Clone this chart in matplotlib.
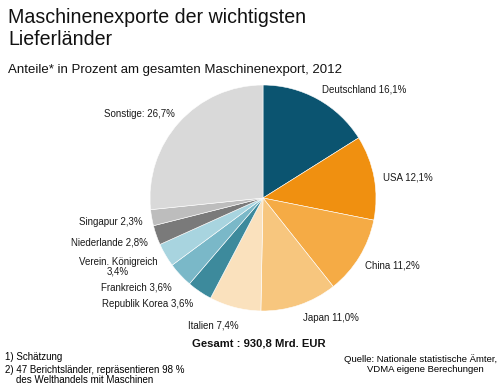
import matplotlib.pyplot as plt

plt.rcParams['font.family'] = ['Liberation Sans', 'DejaVu Sans']

# data
laender = ['Deutschland', 'USA', 'China', 'Japan', 'Italien', 'Republik Korea',
           'Frankreich', 'Verein. Königreich', 'Niederlande', 'Singapur', 'Sonstige']
anteile = [16.1, 12.1, 11.2, 11.0, 7.4, 3.6, 3.6, 3.4, 2.8, 2.3, 26.7]
farben = ['#0b5470', '#f09010', '#f5ab45', '#f7c67e', '#fae1bd', '#3d8a9c',
          '#7ab8c8', '#a8d4df', '#7a7a7a', '#bdbdbd', '#d9d9d9']

# label anchor positions in pixels (x, y from top), ha
label_pos = [(322, 90, 'left'), (383, 178, 'left'), (365, 266, 'left'),
             (303, 318, 'left'), (188, 325, 'left'), (193, 304, 'right'),
             (172, 287, 'right'), (118, 267, 'center'), (148, 242, 'right'),
             (143, 222, 'right'), (175, 114, 'right')]

W, H = 500, 387
fig = plt.figure(figsize=(5, 3.87), dpi=100)

cx, cy, r = 263, 198, 113
ax = fig.add_axes([(cx - r) / W, 1 - (cy + r) / H, 2 * r / W, 2 * r / H])
ax.pie(anteile, colors=farben, startangle=90, counterclock=False,
       radius=1, wedgeprops=dict(linewidth=0.4, edgecolor='white'))
ax.set_xlim(-1, 1)
ax.set_ylim(-1, 1)
ax.set_aspect('auto')
ax.axis('off')

def fmt(v):
    return f'{v:.1f}'.replace('.', ',') + '%'

for name, v, (x, y, ha) in zip(laender, anteile, label_pos):
    if name == 'Verein. Königreich':
        txt = f'{name}\n{fmt(v)}'
        ma = 'center'
    else:
        txt = f'{name} {fmt(v)}' if name != 'Sonstige' else f'{name}: {fmt(v)}'
        ma = 'left'
    fig.text(x / W, 1 - y / H, txt, ha=ha, va='center', fontsize=7,
             multialignment=ma, color='#1a1a1a', linespacing=1.0)

fig.text(8 / W, 1 - 8 / H, 'Maschinenexporte der wichtigsten\nLieferländer',
         ha='left', va='top', fontsize=14.1, linespacing=1.17, color='#111111')
fig.text(8 / W, 1 - 70 / H, 'Anteile* in Prozent am gesamten Maschinenexport, 2012',
         ha='left', va='center', fontsize=9.5, color='#111111')

fig.text(259 / W, 1 - 343 / H, 'Gesamt : 930,8 Mrd. EUR', ha='center', va='center',
         fontsize=8.1, fontweight='bold', color='#111111')

fig.text(5 / W, 1 - 357 / H, '1) Schätzung', ha='left', va='center', fontsize=7)
fig.text(5 / W, 1 - 375 / H, '2) 47 Berichtsländer, repräsentieren 98 %\n    des Welthandels mit Maschinen',
         ha='left', va='center', fontsize=7, linespacing=0.95)
fig.text(497 / W, 1 - 364 / H, 'Quelle: Nationale statistische Ämter,\nVDMA eigene Berechungen     ',
         ha='right', va='center', fontsize=6.8, multialignment='right', linespacing=1.05)

fig.savefig('out.png', dpi=100)
